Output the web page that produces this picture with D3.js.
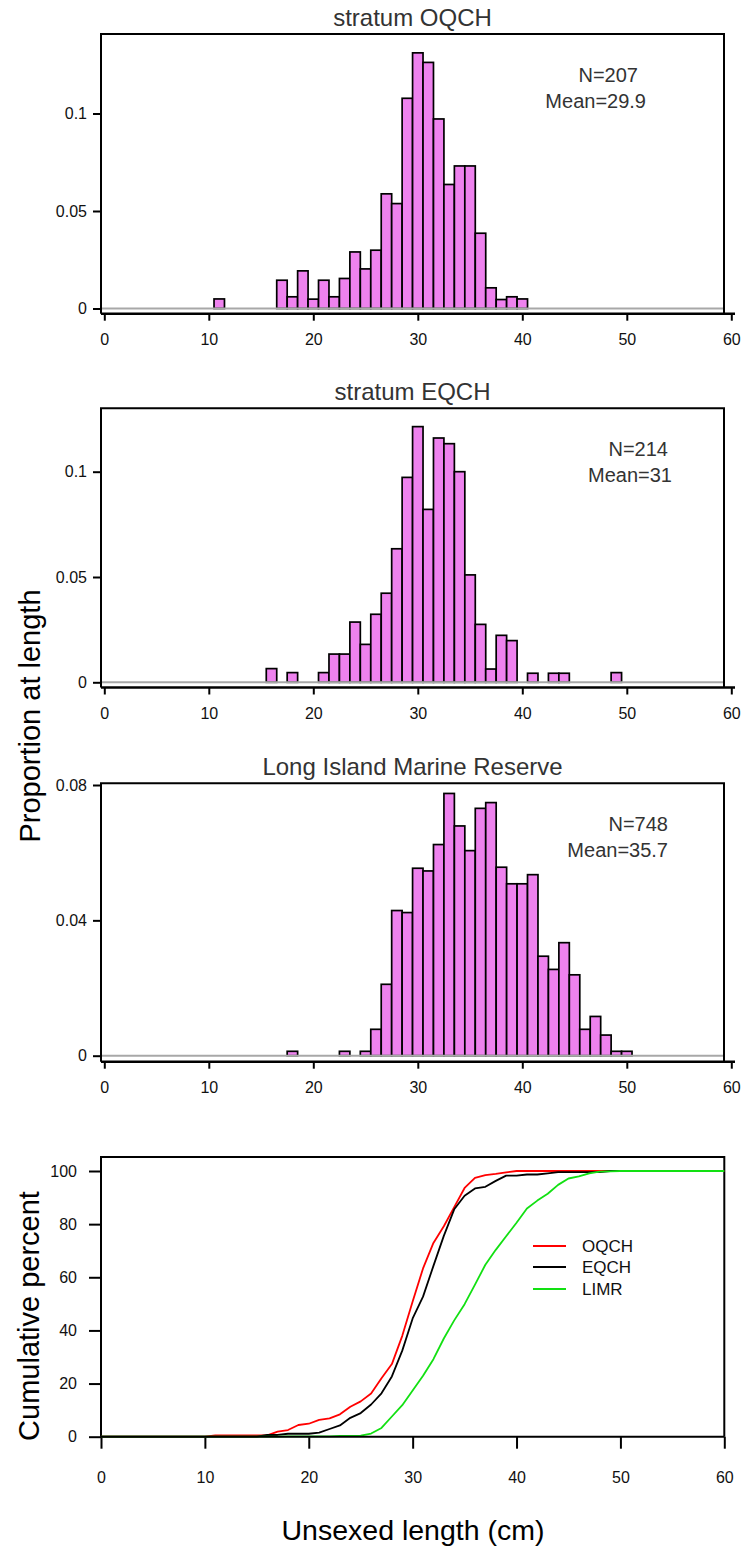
<!DOCTYPE html>
<html>
<head>
<meta charset="utf-8">
<script src="https://cdn.jsdelivr.net/npm/d3@7"></script>
<style>
  body { margin: 0; background: #fff; }
  svg text { font-family: "Liberation Sans", Arial, Helvetica, sans-serif; }
</style>
</head>
<body>
<svg id="chart" width="741" height="1548"></svg>
<script>
// ---- Length-frequency data (proportion at length, 1 cm bins) ----
const oqchLengths = [11,17,18,19,20,21,22,23,24,25,26,27,28,29,30,31,32,33,34,35,36,37,38,39,40];
const oqchProps   = [0.0049,0.0145,0.0060,0.0193,0.0048,0.0145,0.0060,0.0154,0.0290,0.0203,0.0299,0.0588,0.0538,
                     0.1078,0.1311,0.1262,0.0972,0.0636,0.0731,0.0731,0.0386,0.0106,0.0046,0.0060,0.0049];

const eqchLengths = [16,18,21,22,23,24,25,26,27,28,29,30,31,32,33,34,35,36,37,38,39,41,43,44,49];
const eqchProps   = [0.0065,0.0046,0.0046,0.0134,0.0134,0.0286,0.0180,0.0323,0.0423,0.0634,0.0973,0.1214,0.0821,
                     0.1160,0.1133,0.1000,0.0510,0.0275,0.0063,0.0223,0.0198,0.0043,0.0043,0.0043,0.0046];

const limrLengths = [18,23,25,26,27,28,29,30,31,32,33,34,35,36,37,38,39,40,41,42,43,44,45,46,47,48,49,50];
const limrProps   = [0.0013,0.0013,0.0013,0.0078,0.0211,0.0429,0.0423,0.0554,0.0546,0.0624,0.0775,0.0679,0.0606,
                     0.0731,0.0748,0.0557,0.0508,0.0508,0.0535,0.0294,0.0255,0.0334,0.0239,0.0078,0.0116,0.0061,
                     0.0013,0.0013];

const panelTitles = ["stratum OQCH", "stratum EQCH", "Long Island Marine Reserve"];
const sampleSizes = [207, 214, 748];
const meanLengths = ["29.9", "31", "35.7"];
const seriesNames = ["OQCH", "EQCH", "LIMR"];

// Tick labels
const lengthTicks = [0, 10, 20, 30, 40, 50, 60];
const propTicksA  = [0, 0.05, 0.1];
const propTicksB  = [0, 0.04, 0.08];
const cumTicks    = [0, 20, 40, 60, 80, 100];

// ---- Layout ----
const svg = d3.select("#chart");
const boxL = 101, boxR = 724;
const FILL = "#ee82ee";

const panels = [
  { lengths: oqchLengths, props: oqchProps, ticks: propTicksA, top: 34,    y0: 308.5,  yTop: 113.5, refVal: 0.1,  axisY: 313.7, nRight: 638, mRight: 646 },
  { lengths: eqchLengths, props: eqchProps, ticks: propTicksA, top: 408.3, y0: 682.3,  yTop: 471.7, refVal: 0.1,  axisY: 687.5, nRight: 668, mRight: 672 },
  { lengths: limrLengths, props: limrProps, ticks: propTicksB, top: 783.3, y0: 1055.7, yTop: 785,   refVal: 0.08, axisY: 1061.7, nRight: 668, mRight: 668 }
];

const xHist = d3.scaleLinear().domain([0, 60]).range([104.3, 731.3]);
const fmt = d3.format("~g");

panels.forEach((p, i) => {
  const y = d3.scaleLinear().domain([0, p.refVal]).range([p.y0, p.yTop]);
  const g = svg.append("g");
  const bins = p.lengths.map((L, k) => ({ L, v: p.props[k] }));

  // bars
  g.selectAll("rect.bar").data(bins).join("rect")
    .attr("class", "bar")
    .attr("x", d => xHist(d.L - 0.5))
    .attr("width", d => xHist(d.L + 0.5) - xHist(d.L - 0.5))
    .attr("y", d => y(d.v))
    .attr("height", d => y(0) - y(d.v))
    .attr("fill", FILL)
    .attr("stroke", "#000")
    .attr("stroke-width", 1.7);

  // zero reference line
  g.append("line")
    .attr("x1", boxL).attr("x2", boxR)
    .attr("y1", y(0)).attr("y2", y(0))
    .attr("stroke", "#a8a8a8").attr("stroke-width", 2);

  // frame (top, left, right)
  g.append("path")
    .attr("d", `M${boxL},${p.axisY}V${p.top}H${boxR}V${p.axisY}`)
    .attr("fill", "none").attr("stroke", "#000").attr("stroke-width", 2);

  // y axis
  const ya = g.append("g").attr("transform", `translate(${boxL},0)`)
    .call(d3.axisLeft(y).tickValues(p.ticks).tickFormat(fmt).tickSize(8).tickPadding(6));
  ya.select(".domain").remove();
  ya.selectAll(".tick line").attr("stroke", "#000").attr("stroke-width", 2);
  ya.selectAll(".tick text").attr("font-size", 16).attr("fill", "#111");

  // x axis
  const xa = g.append("g").attr("transform", `translate(0,${p.axisY})`)
    .call(d3.axisBottom(xHist).tickValues(lengthTicks).tickSize(7));
  xa.select(".domain").remove();
  xa.append("line").attr("x1", boxL).attr("x2", 735).attr("y1", 0).attr("y2", 0)
    .attr("stroke", "#000").attr("stroke-width", 2.5);
  xa.selectAll(".tick line").attr("stroke", "#000").attr("stroke-width", 2);
  xa.selectAll(".tick text").attr("font-size", 16).attr("fill", "#111")
    .attr("y", 31).attr("dy", null);

  // title and annotations
  g.append("text").attr("x", (boxL + boxR) / 2).attr("y", p.top - 8)
    .attr("text-anchor", "middle").attr("font-size", 24).attr("fill", "#333")
    .text(panelTitles[i]);
  g.append("text").attr("x", p.nRight).attr("y", p.top + 47.7)
    .attr("text-anchor", "end").attr("font-size", 20).attr("fill", "#333")
    .text("N=" + sampleSizes[i]);
  g.append("text").attr("x", p.mRight).attr("y", p.top + 74)
    .attr("text-anchor", "end").attr("font-size", 20).attr("fill", "#333")
    .text("Mean=" + meanLengths[i]);
});

svg.append("text")
  .attr("transform", "translate(30,716) rotate(-90)")
  .attr("text-anchor", "middle").attr("dy", "0.35em")
  .attr("font-size", 29).attr("fill", "#000")
  .text("Proportion at length");

// ---- Cumulative percent panel ----
const cTop = 1157, cBot = 1436.7;
const xc = d3.scaleLinear().domain([0, 60]).range([101, 724.3]);
const yc = d3.scaleLinear().domain([0, 100]).range([cBot, 1171]);

const cg = svg.append("g");
cg.append("path")
  .attr("d", `M${boxL},${cBot}V${cTop}H${724.3}V${cBot}`)
  .attr("fill", "none").attr("stroke", "#000").attr("stroke-width", 2);

const cya = cg.append("g").attr("transform", `translate(${boxL},0)`)
  .call(d3.axisLeft(yc).tickValues(cumTicks).tickSize(12).tickPadding(12));
cya.select(".domain").remove();
cya.selectAll(".tick line").attr("stroke", "#000").attr("stroke-width", 2);
cya.selectAll(".tick text").attr("font-size", 16).attr("fill", "#111");

const cxa = cg.append("g").attr("transform", `translate(0,${cBot})`)
  .call(d3.axisBottom(xc).tickValues(lengthTicks).tickSize(12));
cxa.select(".domain").remove();
cxa.selectAll(".tick line").attr("stroke", "#000").attr("stroke-width", 2);
cxa.selectAll(".tick text").attr("font-size", 16).attr("fill", "#111")
  .attr("y", 46.3).attr("dy", null);

// cumulative percentage at each whole centimetre
function cumulative(lengths, props) {
  const total = d3.sum(props);
  const byLen = new Map(lengths.map((L, k) => [L, props[k]]));
  let run = 0;
  return d3.range(0, 61).map(L => {
    run += byLen.get(L) || 0;
    return { L, c: 100 * run / total };
  });
}

const lineColors = ["#ff0000", "#000000", "#12e012"];
const cumSeries = [
  cumulative(oqchLengths, oqchProps),
  cumulative(eqchLengths, eqchProps),
  cumulative(limrLengths, limrProps)
];
const line = d3.line().x(d => xc(d.L)).y(d => yc(d.c));
cumSeries.forEach((s, i) => {
  cg.append("path").datum(s).attr("d", line)
    .attr("fill", "none").attr("stroke", lineColors[i]).attr("stroke-width", 1.8)
    .attr("stroke-linejoin", "round");
});

// bottom axis baseline
cg.append("line").attr("x1", boxL).attr("x2", 724.3).attr("y1", cBot).attr("y2", cBot)
  .attr("stroke", "#000").attr("stroke-width", 2);

// legend
const legY = [1246, 1267, 1289];
seriesNames.forEach((name, i) => {
  cg.append("line").attr("x1", 533).attr("x2", 566).attr("y1", legY[i]).attr("y2", legY[i])
    .attr("stroke", lineColors[i]).attr("stroke-width", 1.8);
  cg.append("text").attr("x", 582).attr("y", legY[i]).attr("dy", "0.35em")
    .attr("font-size", 17).attr("fill", "#111").text(name);
});

svg.append("text")
  .attr("transform", "translate(29,1316) rotate(-90)")
  .attr("text-anchor", "middle").attr("dy", "0.35em")
  .attr("font-size", 29).attr("fill", "#000")
  .text("Cumulative percent");

svg.append("text")
  .attr("x", 413).attr("y", 1540)
  .attr("text-anchor", "middle").attr("font-size", 28.5).attr("fill", "#000")
  .text("Unsexed length (cm)");
</script>
</body>
</html>
